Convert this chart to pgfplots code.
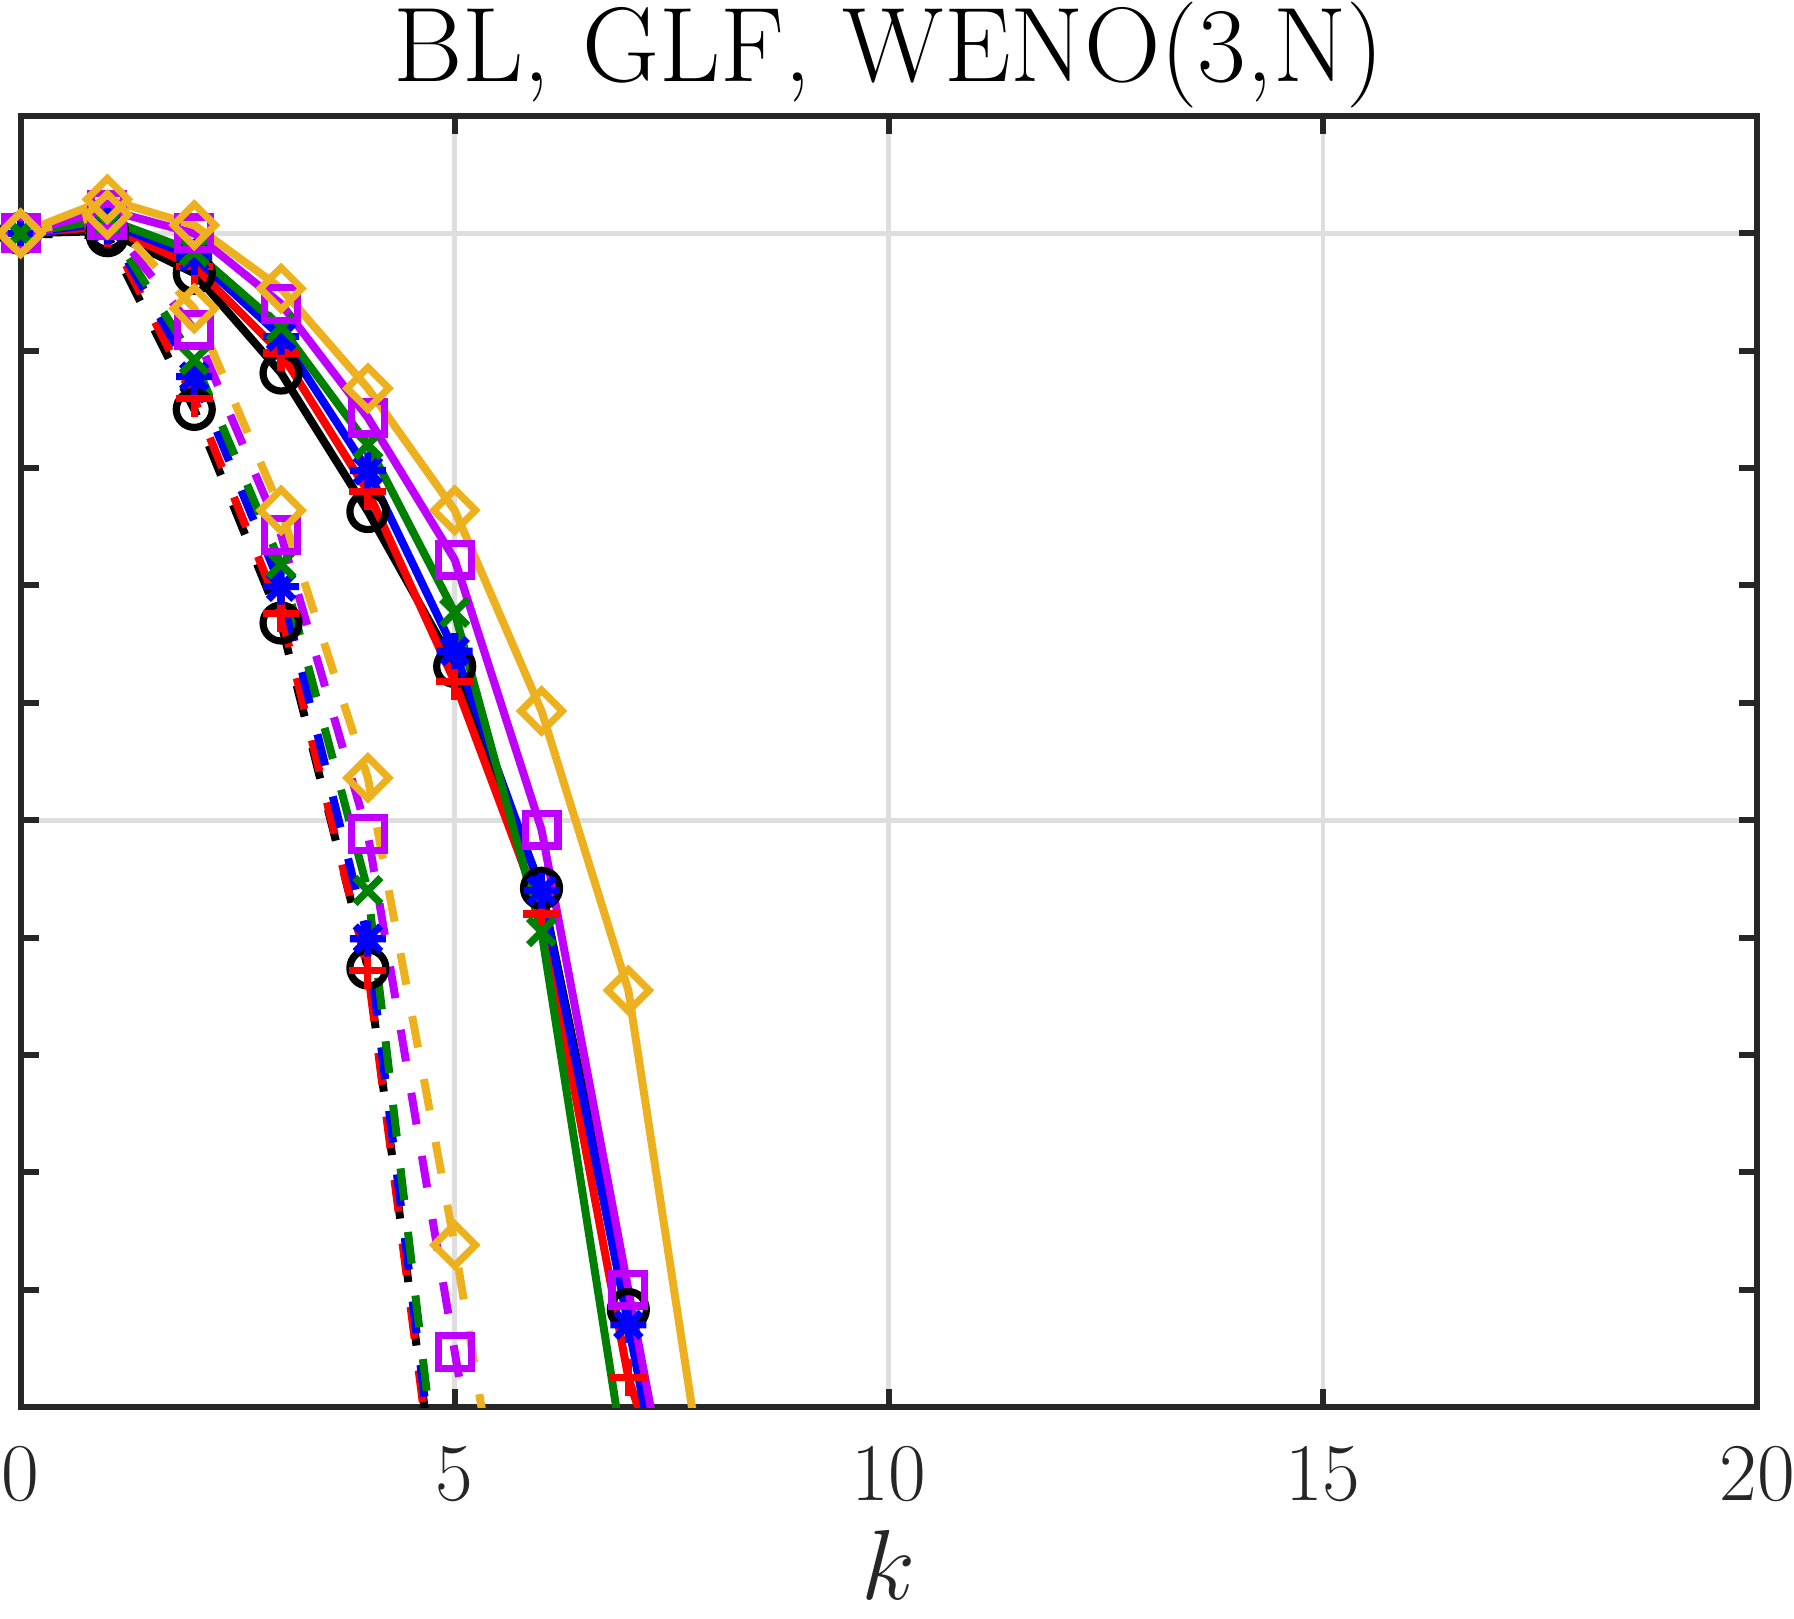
\documentclass[border=0pt]{standalone}
\usepackage{pgfplots}
\pgfplotsset{compat=1.18}
\definecolor{mblack}{rgb}{0,0,0}
\definecolor{mred}{rgb}{1,0,0}
\definecolor{mblue}{rgb}{0,0,1}
\definecolor{mgreen}{rgb}{0,0.5,0}
\definecolor{mmag}{rgb}{0.75,0,1}
\definecolor{morange}{rgb}{0.929,0.694,0.125}
\definecolor{axgray}{rgb}{0.15,0.15,0.15}
\definecolor{gridgray}{rgb}{0.87,0.87,0.87}
\pgfdeclareplotmark{mstar}{%
  \pgfpathmoveto{\pgfqpoint{-\pgfplotmarksize}{0pt}}\pgfpathlineto{\pgfqpoint{\pgfplotmarksize}{0pt}}%
  \pgfpathmoveto{\pgfqpoint{0pt}{-\pgfplotmarksize}}\pgfpathlineto{\pgfqpoint{0pt}{\pgfplotmarksize}}%
  \pgfpathmoveto{\pgfqpoint{-.707\pgfplotmarksize}{-.707\pgfplotmarksize}}\pgfpathlineto{\pgfqpoint{.707\pgfplotmarksize}{.707\pgfplotmarksize}}%
  \pgfpathmoveto{\pgfqpoint{-.707\pgfplotmarksize}{.707\pgfplotmarksize}}\pgfpathlineto{\pgfqpoint{.707\pgfplotmarksize}{-.707\pgfplotmarksize}}%
  \pgfusepathqstroke}
\pgfdeclareplotmark{mdiamond}{%
  \pgfpathmoveto{\pgfqpoint{\pgfplotmarksize}{0pt}}%
  \pgfpathlineto{\pgfqpoint{0pt}{\pgfplotmarksize}}%
  \pgfpathlineto{\pgfqpoint{-\pgfplotmarksize}{0pt}}%
  \pgfpathlineto{\pgfqpoint{0pt}{-\pgfplotmarksize}}%
  \pgfpathclose\pgfusepathqstroke}
\pgfplotsset{
  sline/.style={#1, line width=2pt, no markers, solid},
  dline/.style={#1, line width=2pt, no markers, dash pattern=on 8pt off 8pt},
  mk/.style n args={3}{#1, only marks, mark=#2, mark size=#3, mark options={solid, line width=1.8pt}},
}
\begin{document}
\begin{tikzpicture}
\begin{axis}[
  scale only axis, width=434.1pt, height=322.75pt,
  xmin=0, xmax=20, ymin=-10, ymax=1,
  xtick={0,5,10,15,20},
  ytick={-10,-5,0},
  minor ytick={-9,-8,-7,-6,-4,-3,-2,-1,1},
  yticklabels={},
  xmajorgrids, ymajorgrids,
  major grid style={gridgray, line width=1.2pt},
  axis line style={axgray, line width=1.5pt},
  every tick/.style={axgray, line width=1.5pt},
  major tick length=4.5pt, minor tick length=4.5pt,
  tick align=inside,
  /pgf/number format/assume math mode=true,
  xticklabel style={font=\fontsize{20.5}{24}\selectfont, text=axgray, anchor=base, inner sep=0pt, yshift=-23.25pt},
  xlabel={$k$},
  xlabel style={at={(axis description cs:0.5,0)}, anchor=base, inner sep=0pt, yshift=-48pt, font=\fontsize{24.5}{29}\selectfont, text=axgray},
  title={BL, GLF, WENO(3,N)},
  title style={at={(axis description cs:0.5,1)}, anchor=base, inner sep=0pt, yshift=2.5pt, font=\fontsize{26.5}{31}\selectfont, text=black},
  clip marker paths=false,
]
% ---- black (o)
\addplot[sline=mblack] coordinates {(0,0) (1,0.02) (2,-0.34) (3,-1.19) (4,-2.37) (5,-3.69) (6,-5.58) (7,-9.17) (8,-13.8)};
\addplot[mk={mblack}{o}{4.5pt}] coordinates {(0,0) (1,0.02) (2,-0.34) (3,-1.19) (4,-2.37) (5,-3.69) (6,-5.58) (7,-9.17)};
\addplot[dline=mblack] coordinates {(0,0) (1,-0.02) (2,-1.5) (3,-3.32) (4,-6.26) (5,-12.0)};
\addplot[mk={mblack}{o}{4.5pt}] coordinates {(0,0) (1,-0.02) (2,-1.5) (3,-3.32) (4,-6.26)};
% ---- red (+)
\addplot[sline=mred] coordinates {(0,0) (1,0.06) (2,-0.28) (3,-1.02) (4,-2.2) (5,-3.82) (6,-5.8) (7,-9.75) (8,-12.0)};
\addplot[mk={mred}{+}{4.6pt}] coordinates {(0,0) (1,0.06) (2,-0.28) (3,-1.02) (4,-2.2) (5,-3.82) (6,-5.8) (7,-9.75)};
\addplot[dline=mred] coordinates {(0,0) (1,0.04) (2,-1.41) (3,-3.24) (4,-6.28) (5,-12.1)};
\addplot[mk={mred}{+}{4.6pt}] coordinates {(0,0) (1,0.04) (2,-1.41) (3,-3.24) (4,-6.28)};
% ---- blue (*)
\addplot[sline=mblue] coordinates {(0,0) (1,0.09) (2,-0.2) (3,-0.88) (4,-2.02) (5,-3.56) (6,-5.6) (7,-9.3) (8,-13.1)};
\addplot[mk={mblue}{mstar}{4.5pt}] coordinates {(0,0) (1,0.09) (2,-0.2) (3,-0.88) (4,-2.02) (5,-3.56) (6,-5.6) (7,-9.3)};
\addplot[dline=mblue] coordinates {(0,0) (1,0.06) (2,-1.22) (3,-3.01) (4,-6.01) (5,-12.0)};
\addplot[mk={mblue}{mstar}{4.5pt}] coordinates {(0,0) (1,0.06) (2,-1.22) (3,-3.01) (4,-6.01)};
% ---- green (x)
\addplot[sline=mgreen] coordinates {(0,0) (1,0.12) (2,-0.155) (3,-0.8) (4,-1.8) (5,-3.23) (6,-5.95) (7,-10.66) (8,-15)};
\addplot[mk={mgreen}{x}{4.6pt}] coordinates {(0,0) (1,0.12) (2,-0.155) (3,-0.8) (4,-1.8) (5,-3.23) (6,-5.95)};
\addplot[dline=mgreen] coordinates {(0,0) (1,0.08) (2,-1.08) (3,-2.82) (4,-5.6) (5,-11.9)};
\addplot[mk={mgreen}{x}{4.6pt}] coordinates {(0,0) (1,0.08) (2,-1.08) (3,-2.82) (4,-5.6)};
% ---- magenta (square)
\addplot[sline=mmag] coordinates {(0,0) (1,0.2) (2,0.0) (3,-0.6) (4,-1.57) (5,-2.78) (6,-5.08) (7,-9.0) (8,-12.9)};
\addplot[mk={mmag}{square}{4.1pt}] coordinates {(0,0) (1,0.2) (2,0.0) (3,-0.6) (4,-1.57) (5,-2.78) (6,-5.08) (7,-9.0)};
\addplot[dline=mmag] coordinates {(0,0) (1,0.11) (2,-0.82) (3,-2.57) (4,-5.12) (5,-9.53) (6,-13.8)};
\addplot[mk={mmag}{square}{4.1pt}] coordinates {(0,0) (1,0.11) (2,-0.82) (3,-2.57) (4,-5.12) (5,-9.53)};
% ---- orange (diamond)
\addplot[sline=morange] coordinates {(0,0) (1,0.29) (2,0.07) (3,-0.47) (4,-1.32) (5,-2.36) (6,-4.07) (7,-6.45) (8,-11.3)};
\addplot[mk={morange}{mdiamond}{5.2pt}] coordinates {(0,0) (1,0.29) (2,0.07) (3,-0.47) (4,-1.32) (5,-2.36) (6,-4.07) (7,-6.45)};
\addplot[dline=morange] coordinates {(0,0) (1,0.16) (2,-0.64) (3,-2.36) (4,-4.64) (5,-8.62) (6,-13.1)};
\addplot[mk={morange}{mdiamond}{5.2pt}] coordinates {(0,0) (1,0.16) (2,-0.64) (3,-2.36) (4,-4.64) (5,-8.62)};
\end{axis}
\pgfresetboundingbox
\path[use as bounding box] ([shift={(-5.15pt,-52.75pt)}]current axis.south west) rectangle ([shift={(9.25pt,29pt)}]current axis.north east);
\end{tikzpicture}
\end{document}
